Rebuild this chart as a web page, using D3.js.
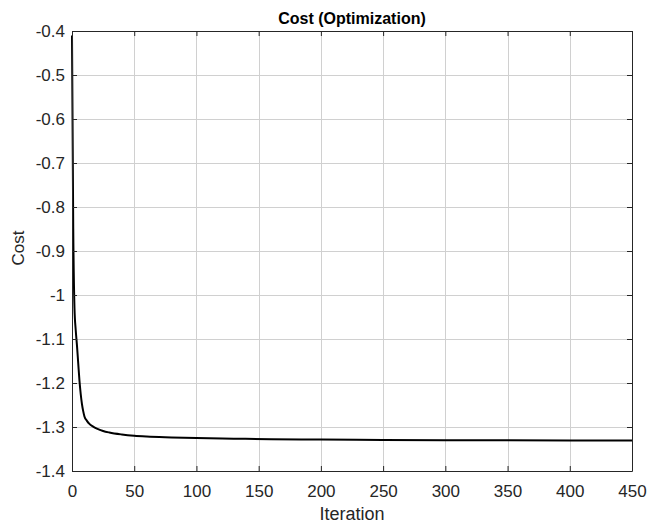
<!DOCTYPE html>
<html>
<head>
<meta charset="utf-8">
<script src="https://cdn.jsdelivr.net/npm/d3@7"></script>
<style>
  html, body { margin: 0; padding: 0; background: #fff; }
  svg { display: block; font-family: "Liberation Sans", Arial, sans-serif; }
</style>
</head>
<body>
<svg id="chart" width="647" height="526"></svg>
<script>
// Optimization cost history
const iterations = [0, 1, 2, 3, 4, 5, 6, 7, 8, 9, 10, 12, 14, 17, 20, 25, 30, 40, 50, 60, 80, 100, 130, 160, 200, 250, 300, 350, 400, 450];
const costs = [-0.41, -0.85, -1.03, -1.08, -1.115, -1.155, -1.195, -1.225, -1.248, -1.264, -1.276, -1.286, -1.293, -1.299, -1.3035, -1.309, -1.3125, -1.317, -1.320, -1.3218, -1.3237, -1.3252, -1.3266, -1.3276, -1.3286, -1.3294, -1.3299, -1.3303, -1.3306, -1.3308];

const xTicks = [0, 50, 100, 150, 200, 250, 300, 350, 400, 450];
const yTicks = [-1.4, -1.3, -1.2, -1.1, -1, -0.9, -0.8, -0.7, -0.6, -0.5, -0.4];
const yTickLabels = ["-1.4", "-1.3", "-1.2", "-1.1", "-1", "-0.9", "-0.8", "-0.7", "-0.6", "-0.5", "-0.4"];

const titleText = "Cost (Optimization)";
const xLabel = "Iteration";
const yLabel = "Cost";

const margin = { left: 72, top: 31, right: 15, bottom: 55 };
const W = 647, H = 526;
const pw = W - margin.left - margin.right;
const ph = H - margin.top - margin.bottom;

const svg = d3.select("#chart");
const g = svg.append("g").attr("transform", `translate(${margin.left},${margin.top})`);

const x = d3.scaleLinear().domain([0, 450]).range([0, pw]);
const y = d3.scaleLinear().domain([-1.4, -0.4]).range([ph, 0]);

const axisColor = "#262626";
const gridColor = "#d0d0d0";
const fontFamily = '"Liberation Sans", Arial, sans-serif';

// grid
g.append("g").selectAll("line").data(xTicks).join("line")
  .attr("x1", d => Math.round(x(d)) + 0.5).attr("x2", d => Math.round(x(d)) + 0.5)
  .attr("y1", 0).attr("y2", ph)
  .attr("stroke", gridColor).attr("stroke-width", 1);
g.append("g").selectAll("line").data(yTicks).join("line")
  .attr("y1", d => Math.round(y(d)) + 0.5).attr("y2", d => Math.round(y(d)) + 0.5)
  .attr("x1", 0).attr("x2", pw)
  .attr("stroke", gridColor).attr("stroke-width", 1);

// cost curve
const line = d3.line()
  .x((d, i) => x(iterations[i]))
  .y(d => y(d))
  .curve(d3.curveMonotoneX);
g.append("path")
  .datum(costs)
  .attr("d", line)
  .attr("fill", "none")
  .attr("stroke", "#000")
  .attr("stroke-width", 2);

// axes with inward ticks on all four sides
const fmtY = (d) => yTickLabels[yTicks.indexOf(d)];
const tickLen = 5;
const bottomAxis = d3.axisBottom(x).tickValues(xTicks).tickSizeInner(-tickLen).tickSizeOuter(0).tickPadding(14);
const topAxis = d3.axisTop(x).tickValues(xTicks).tickSizeInner(-tickLen).tickSizeOuter(0).tickFormat("");
const leftAxis = d3.axisLeft(y).tickValues(yTicks).tickSizeInner(-tickLen).tickSizeOuter(0).tickPadding(7).tickFormat(fmtY);
const rightAxis = d3.axisRight(y).tickValues(yTicks).tickSizeInner(-tickLen).tickSizeOuter(0).tickFormat("");

function styleAxis(sel) {
  sel.select(".domain").attr("stroke", axisColor).attr("stroke-width", 1);
  sel.selectAll(".tick line").attr("stroke", axisColor);
  sel.selectAll(".tick text").attr("fill", "#262626").style("font-size", "17px")
    .style("font-family", fontFamily);
}

g.append("g").attr("transform", `translate(0,${ph})`).call(bottomAxis).call(styleAxis);
g.append("g").call(topAxis).call(styleAxis);
g.append("g").call(leftAxis).call(styleAxis);
g.append("g").attr("transform", `translate(${pw},0)`).call(rightAxis).call(styleAxis);

// title and axis labels
svg.append("text")
  .attr("x", margin.left + pw / 2).attr("y", 24)
  .attr("text-anchor", "middle")
  .style("font-size", "16px").style("font-weight", "bold").attr("fill", "#000")
  .text(titleText);

svg.append("text")
  .attr("x", margin.left + pw / 2).attr("y", 520)
  .attr("text-anchor", "middle")
  .style("font-size", "18px").attr("fill", "#262626")
  .text(xLabel);

svg.append("text")
  .attr("transform", `translate(24,248) rotate(-90)`)
  .attr("text-anchor", "middle")
  .style("font-size", "17px").attr("fill", "#262626")
  .text(yLabel);
</script>
</body>
</html>
